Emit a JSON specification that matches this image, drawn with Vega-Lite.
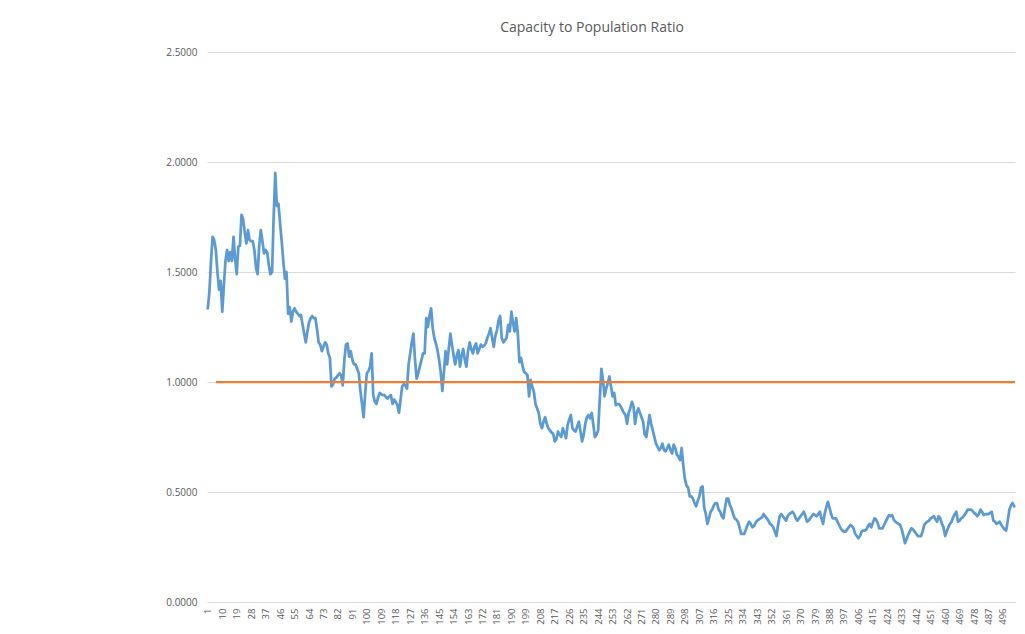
{
  "$schema": "https://vega.github.io/schema/vega-lite/v6.json",
  "width": 808,
  "height": 550,
  "autosize": {"type": "none"},
  "padding": {"left": 207, "top": 52, "right": 10, "bottom": 32},
  "background": "white",
  "config": {"view": {"stroke": null}, "font": "Open Sans", "axis": {"labelOverlap": false}, "axisX": {"labelOverlap": false}},
  "title": {"text": "Capacity to Population Ratio", "fontSize": 14, "fontWeight": "normal", "color": "#595959", "font": "Open Sans", "anchor": "middle", "dx": -19, "offset": 12},
  "datasets": {
    "ratio": [
{"i":1,"v":1.335},{"i":2,"v":1.41},{"i":3,"v":1.55},{"i":4,"v":1.66},{"i":5,"v":1.645},{"i":6,"v":1.6},{"i":7,"v":1.5},{"i":8,"v":1.42},{"i":9,"v":1.46},{"i":10,"v":1.32},
{"i":11,"v":1.44},{"i":12,"v":1.55},{"i":13,"v":1.6},{"i":14,"v":1.55},{"i":15,"v":1.59},{"i":16,"v":1.55},{"i":17,"v":1.66},{"i":18,"v":1.56},{"i":19,"v":1.49},{"i":20,"v":1.615},
{"i":21,"v":1.62},{"i":22,"v":1.76},{"i":23,"v":1.74},{"i":24,"v":1.68},{"i":25,"v":1.63},{"i":26,"v":1.69},{"i":27,"v":1.645},{"i":28,"v":1.64},{"i":29,"v":1.64},{"i":30,"v":1.6},
{"i":31,"v":1.52},{"i":32,"v":1.49},{"i":33,"v":1.62},{"i":34,"v":1.69},{"i":35,"v":1.64},{"i":36,"v":1.585},{"i":37,"v":1.6},{"i":38,"v":1.59},{"i":39,"v":1.53},{"i":40,"v":1.49},
{"i":41,"v":1.5},{"i":42,"v":1.75},{"i":43,"v":1.95},{"i":44,"v":1.8},{"i":45,"v":1.81},{"i":46,"v":1.72},{"i":47,"v":1.64},{"i":48,"v":1.55},{"i":49,"v":1.47},{"i":50,"v":1.5},
{"i":51,"v":1.31},{"i":52,"v":1.34},{"i":53,"v":1.275},{"i":54,"v":1.32},{"i":55,"v":1.335},{"i":56,"v":1.32},{"i":57,"v":1.31},{"i":58,"v":1.3},{"i":59,"v":1.305},{"i":60,"v":1.26},
{"i":61,"v":1.22},{"i":62,"v":1.18},{"i":63,"v":1.23},{"i":64,"v":1.27},{"i":65,"v":1.29},{"i":66,"v":1.3},{"i":67,"v":1.29},{"i":68,"v":1.29},{"i":69,"v":1.24},{"i":70,"v":1.18},
{"i":71,"v":1.17},{"i":72,"v":1.14},{"i":73,"v":1.16},{"i":74,"v":1.18},{"i":75,"v":1.17},{"i":76,"v":1.13},{"i":77,"v":1.11},{"i":78,"v":0.98},{"i":79,"v":0.99},{"i":80,"v":1.015},
{"i":81,"v":1.02},{"i":82,"v":1.03},{"i":83,"v":1.04},{"i":84,"v":1.03},{"i":85,"v":0.985},{"i":86,"v":1.1},{"i":87,"v":1.17},{"i":88,"v":1.175},{"i":89,"v":1.115},{"i":90,"v":1.14},
{"i":91,"v":1.1},{"i":92,"v":1.08},{"i":93,"v":1.08},{"i":94,"v":1.06},{"i":95,"v":1.04},{"i":96,"v":0.96},{"i":97,"v":0.9},{"i":98,"v":0.84},{"i":99,"v":0.95},{"i":100,"v":1.04},
{"i":101,"v":1.05},{"i":102,"v":1.07},{"i":103,"v":1.13},{"i":104,"v":0.94},{"i":105,"v":0.91},{"i":106,"v":0.9},{"i":107,"v":0.93},{"i":108,"v":0.95},{"i":109,"v":0.945},{"i":110,"v":0.94},
{"i":111,"v":0.94},{"i":112,"v":0.93},{"i":113,"v":0.925},{"i":114,"v":0.935},{"i":115,"v":0.94},{"i":116,"v":0.9},{"i":117,"v":0.92},{"i":118,"v":0.91},{"i":119,"v":0.895},{"i":120,"v":0.86},
{"i":121,"v":0.92},{"i":122,"v":0.98},{"i":123,"v":0.99},{"i":124,"v":0.985},{"i":125,"v":0.97},{"i":126,"v":1.08},{"i":127,"v":1.13},{"i":128,"v":1.18},{"i":129,"v":1.22},{"i":130,"v":1.1},
{"i":131,"v":1.015},{"i":132,"v":1.04},{"i":133,"v":1.07},{"i":134,"v":1.1},{"i":135,"v":1.13},{"i":136,"v":1.13},{"i":137,"v":1.29},{"i":138,"v":1.25},{"i":139,"v":1.3},{"i":140,"v":1.335},
{"i":141,"v":1.245},{"i":142,"v":1.2},{"i":143,"v":1.175},{"i":144,"v":1.145},{"i":145,"v":1.1},{"i":146,"v":1.045},{"i":147,"v":0.96},{"i":148,"v":1.045},{"i":149,"v":1.14},{"i":150,"v":1.08},
{"i":151,"v":1.15},{"i":152,"v":1.22},{"i":153,"v":1.17},{"i":154,"v":1.12},{"i":155,"v":1.08},{"i":156,"v":1.12},{"i":157,"v":1.145},{"i":158,"v":1.07},{"i":159,"v":1.12},{"i":160,"v":1.15},
{"i":161,"v":1.1},{"i":162,"v":1.07},{"i":163,"v":1.14},{"i":164,"v":1.18},{"i":165,"v":1.15},{"i":166,"v":1.13},{"i":167,"v":1.16},{"i":168,"v":1.175},{"i":169,"v":1.13},{"i":170,"v":1.15},
{"i":171,"v":1.17},{"i":172,"v":1.16},{"i":173,"v":1.165},{"i":174,"v":1.175},{"i":175,"v":1.2},{"i":176,"v":1.22},{"i":177,"v":1.245},{"i":178,"v":1.2},{"i":179,"v":1.16},{"i":180,"v":1.21},
{"i":181,"v":1.235},{"i":182,"v":1.28},{"i":183,"v":1.3},{"i":184,"v":1.2},{"i":185,"v":1.18},{"i":186,"v":1.19},{"i":187,"v":1.2},{"i":188,"v":1.26},{"i":189,"v":1.23},{"i":190,"v":1.32},
{"i":191,"v":1.27},{"i":192,"v":1.23},{"i":193,"v":1.29},{"i":194,"v":1.22},{"i":195,"v":1.09},{"i":196,"v":1.11},{"i":197,"v":1.07},{"i":198,"v":1.045},{"i":199,"v":1.04},{"i":200,"v":1.03},
{"i":201,"v":0.935},{"i":202,"v":1.01},{"i":203,"v":0.98},{"i":204,"v":0.955},{"i":205,"v":0.9},{"i":206,"v":0.88},{"i":207,"v":0.86},{"i":208,"v":0.81},{"i":209,"v":0.79},{"i":210,"v":0.82},
{"i":211,"v":0.84},{"i":212,"v":0.81},{"i":213,"v":0.79},{"i":214,"v":0.78},{"i":215,"v":0.77},{"i":216,"v":0.765},{"i":217,"v":0.73},{"i":218,"v":0.74},{"i":219,"v":0.775},{"i":220,"v":0.76},
{"i":221,"v":0.75},{"i":222,"v":0.79},{"i":223,"v":0.77},{"i":224,"v":0.745},{"i":225,"v":0.805},{"i":226,"v":0.83},{"i":227,"v":0.85},{"i":228,"v":0.79},{"i":229,"v":0.78},{"i":230,"v":0.775},
{"i":231,"v":0.8},{"i":232,"v":0.82},{"i":233,"v":0.775},{"i":234,"v":0.73},{"i":235,"v":0.76},{"i":236,"v":0.81},{"i":237,"v":0.84},{"i":238,"v":0.85},{"i":239,"v":0.835},{"i":240,"v":0.86},
{"i":241,"v":0.805},{"i":242,"v":0.75},{"i":243,"v":0.76},{"i":244,"v":0.78},{"i":245,"v":0.92},{"i":246,"v":1.06},{"i":247,"v":1.01},{"i":248,"v":0.935},{"i":249,"v":0.97},{"i":250,"v":0.995},
{"i":251,"v":1.025},{"i":252,"v":0.98},{"i":253,"v":0.935},{"i":254,"v":0.95},{"i":255,"v":0.895},{"i":256,"v":0.9},{"i":257,"v":0.9},{"i":258,"v":0.89},{"i":259,"v":0.875},{"i":260,"v":0.86},
{"i":261,"v":0.85},{"i":262,"v":0.81},{"i":263,"v":0.86},{"i":264,"v":0.88},{"i":265,"v":0.91},{"i":266,"v":0.89},{"i":267,"v":0.81},{"i":268,"v":0.86},{"i":269,"v":0.88},{"i":270,"v":0.86},
{"i":271,"v":0.84},{"i":272,"v":0.82},{"i":273,"v":0.76},{"i":274,"v":0.75},{"i":275,"v":0.8},{"i":276,"v":0.85},{"i":277,"v":0.81},{"i":278,"v":0.78},{"i":279,"v":0.75},{"i":280,"v":0.72},
{"i":281,"v":0.705},{"i":282,"v":0.69},{"i":283,"v":0.7},{"i":284,"v":0.72},{"i":285,"v":0.69},{"i":286,"v":0.685},{"i":287,"v":0.7},{"i":288,"v":0.715},{"i":289,"v":0.69},{"i":290,"v":0.675},
{"i":291,"v":0.715},{"i":292,"v":0.7},{"i":293,"v":0.67},{"i":294,"v":0.66},{"i":295,"v":0.645},{"i":296,"v":0.7},{"i":297,"v":0.62},{"i":298,"v":0.56},{"i":299,"v":0.53},{"i":300,"v":0.52},
{"i":301,"v":0.48},{"i":302,"v":0.48},{"i":303,"v":0.47},{"i":304,"v":0.45},{"i":305,"v":0.435},{"i":306,"v":0.46},{"i":307,"v":0.48},{"i":308,"v":0.52},{"i":309,"v":0.525},{"i":310,"v":0.43},
{"i":311,"v":0.4},{"i":312,"v":0.355},{"i":313,"v":0.38},{"i":314,"v":0.41},{"i":315,"v":0.42},{"i":316,"v":0.44},{"i":317,"v":0.45},{"i":318,"v":0.45},{"i":319,"v":0.42},{"i":320,"v":0.41},
{"i":321,"v":0.39},{"i":322,"v":0.38},{"i":323,"v":0.43},{"i":324,"v":0.47},{"i":325,"v":0.47},{"i":326,"v":0.44},{"i":327,"v":0.425},{"i":328,"v":0.4},{"i":329,"v":0.38},{"i":330,"v":0.375},
{"i":331,"v":0.365},{"i":332,"v":0.34},{"i":333,"v":0.31},{"i":334,"v":0.31},{"i":335,"v":0.31},{"i":336,"v":0.33},{"i":337,"v":0.35},{"i":338,"v":0.365},{"i":339,"v":0.355},{"i":340,"v":0.34},
{"i":341,"v":0.345},{"i":342,"v":0.36},{"i":343,"v":0.37},{"i":344,"v":0.375},{"i":345,"v":0.38},{"i":346,"v":0.385},{"i":347,"v":0.4},{"i":348,"v":0.39},{"i":349,"v":0.38},{"i":350,"v":0.37},
{"i":351,"v":0.355},{"i":352,"v":0.35},{"i":353,"v":0.34},{"i":354,"v":0.32},{"i":355,"v":0.3},{"i":356,"v":0.35},{"i":357,"v":0.39},{"i":358,"v":0.4},{"i":359,"v":0.39},{"i":360,"v":0.38},
{"i":361,"v":0.37},{"i":362,"v":0.39},{"i":363,"v":0.4},{"i":364,"v":0.405},{"i":365,"v":0.41},{"i":366,"v":0.4},{"i":367,"v":0.38},{"i":368,"v":0.37},{"i":369,"v":0.38},{"i":370,"v":0.39},
{"i":371,"v":0.4},{"i":372,"v":0.41},{"i":373,"v":0.39},{"i":374,"v":0.365},{"i":375,"v":0.37},{"i":376,"v":0.38},{"i":377,"v":0.39},{"i":378,"v":0.4},{"i":379,"v":0.395},{"i":380,"v":0.39},
{"i":381,"v":0.4},{"i":382,"v":0.41},{"i":383,"v":0.38},{"i":384,"v":0.355},{"i":385,"v":0.4},{"i":386,"v":0.43},{"i":387,"v":0.455},{"i":388,"v":0.43},{"i":389,"v":0.4},{"i":390,"v":0.38},
{"i":391,"v":0.38},{"i":392,"v":0.38},{"i":393,"v":0.365},{"i":394,"v":0.35},{"i":395,"v":0.335},{"i":396,"v":0.325},{"i":397,"v":0.32},{"i":398,"v":0.32},{"i":399,"v":0.33},{"i":400,"v":0.34},
{"i":401,"v":0.35},{"i":402,"v":0.345},{"i":403,"v":0.335},{"i":404,"v":0.31},{"i":405,"v":0.3},{"i":406,"v":0.29},{"i":407,"v":0.3},{"i":408,"v":0.32},{"i":409,"v":0.325},{"i":410,"v":0.325},
{"i":411,"v":0.33},{"i":412,"v":0.345},{"i":413,"v":0.355},{"i":414,"v":0.34},{"i":415,"v":0.36},{"i":416,"v":0.38},{"i":417,"v":0.375},{"i":418,"v":0.36},{"i":419,"v":0.335},{"i":420,"v":0.335},
{"i":421,"v":0.335},{"i":422,"v":0.35},{"i":423,"v":0.365},{"i":424,"v":0.38},{"i":425,"v":0.395},{"i":426,"v":0.39},{"i":427,"v":0.395},{"i":428,"v":0.375},{"i":429,"v":0.365},{"i":430,"v":0.36},
{"i":431,"v":0.355},{"i":432,"v":0.35},{"i":433,"v":0.33},{"i":434,"v":0.3},{"i":435,"v":0.267},{"i":436,"v":0.285},{"i":437,"v":0.305},{"i":438,"v":0.32},{"i":439,"v":0.335},{"i":440,"v":0.33},
{"i":441,"v":0.32},{"i":442,"v":0.31},{"i":443,"v":0.3},{"i":444,"v":0.3},{"i":445,"v":0.3},{"i":446,"v":0.32},{"i":447,"v":0.35},{"i":448,"v":0.36},{"i":449,"v":0.365},{"i":450,"v":0.37},
{"i":451,"v":0.38},{"i":452,"v":0.385},{"i":453,"v":0.39},{"i":454,"v":0.375},{"i":455,"v":0.365},{"i":456,"v":0.39},{"i":457,"v":0.38},{"i":458,"v":0.355},{"i":459,"v":0.34},{"i":460,"v":0.3},
{"i":461,"v":0.32},{"i":462,"v":0.34},{"i":463,"v":0.355},{"i":464,"v":0.365},{"i":465,"v":0.385},{"i":466,"v":0.4},{"i":467,"v":0.41},{"i":468,"v":0.365},{"i":469,"v":0.37},{"i":470,"v":0.38},
{"i":471,"v":0.385},{"i":472,"v":0.395},{"i":473,"v":0.405},{"i":474,"v":0.42},{"i":475,"v":0.42},{"i":476,"v":0.42},{"i":477,"v":0.415},{"i":478,"v":0.405},{"i":479,"v":0.4},{"i":480,"v":0.39},
{"i":481,"v":0.4},{"i":482,"v":0.42},{"i":483,"v":0.41},{"i":484,"v":0.395},{"i":485,"v":0.4},{"i":486,"v":0.4},{"i":487,"v":0.4},{"i":488,"v":0.405},{"i":489,"v":0.41},{"i":490,"v":0.37},
{"i":491,"v":0.365},{"i":492,"v":0.355},{"i":493,"v":0.36},{"i":494,"v":0.365},{"i":495,"v":0.35},{"i":496,"v":0.34},{"i":497,"v":0.33},{"i":498,"v":0.325},{"i":499,"v":0.37},{"i":500,"v":0.42},
{"i":501,"v":0.44},{"i":502,"v":0.45},{"i":503,"v":0.435}
    ],
    "target": [{"i": 6, "i2": 503.5, "v": 1.0}]
  },
  "encoding": {
    "x": {
      "field": "i", "type": "quantitative",
      "scale": {"domain": [0.5, 503.5], "nice": false, "zero": false},
      "axis": {
        "title": null,
        "values": [1,10,19,28,37,46,55,64,73,82,91,100,109,118,127,136,145,154,163,172,181,190,199,208,217,226,235,244,253,262,271,280,289,298,307,316,325,334,343,352,361,370,379,388,397,406,415,424,433,442,451,460,469,478,487,496],
        "labelAngle": -90,
        "labelFontSize": 9.5,
        "labelColor": "#595959",
        "labelFont": "Open Sans",
        "labelPadding": 6,
        "ticks": false,
        "grid": false,
        "domainColor": "#D9D9D9",
        "domainWidth": 1,
        "labelOverlap": false,
        "labelBound": false,
        "labelFlush": false
      }
    },
    "y": {
      "field": "v", "type": "quantitative",
      "scale": {"domain": [0, 2.5], "nice": false},
      "axis": {
        "title": null,
        "values": [0, 0.5, 1, 1.5, 2, 2.5],
        "format": ".4f",
        "labelFontSize": 10,
        "labelColor": "#595959",
        "labelFont": "Open Sans",
        "labelPadding": 10,
        "ticks": false,
        "domain": false,
        "grid": true,
        "gridColor": "#D9D9D9",
        "gridWidth": 1
      }
    }
  },
  "layer": [
    {
      "data": {"name": "ratio"},
      "mark": {"type": "line", "color": "#5B9BD5", "strokeWidth": 2.75, "strokeJoin": "round", "strokeCap": "round"}
    },
    {
      "data": {"name": "target"},
      "mark": {"type": "rule", "color": "#ED7D31", "strokeWidth": 2.25},
      "encoding": {
        "x2": {"field": "i2"}
      }
    }
  ]
}
